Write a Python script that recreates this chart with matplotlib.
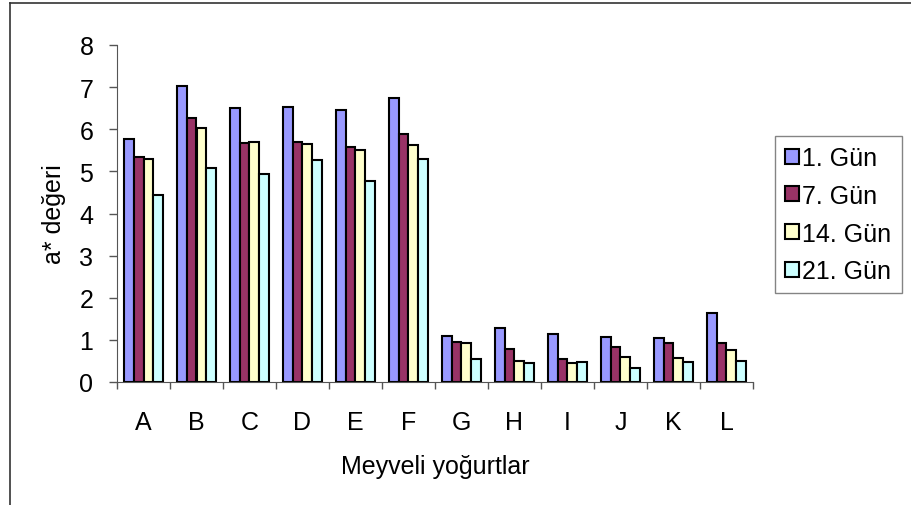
import numpy as np
import matplotlib
matplotlib.use("Agg")
import matplotlib.pyplot as plt
from matplotlib.lines import Line2D

plt.rcParams['font.family'] = ['Liberation Sans', 'DejaVu Sans']

categories = ['A', 'B', 'C', 'D', 'E', 'F', 'G', 'H', 'I', 'J', 'K', 'L']
series_names = ['1. Gün', '7. Gün', '14. Gün', '21. Gün']
gun1 = [5.77, 7.02, 6.51, 6.54, 6.46, 6.74, 1.10, 1.28, 1.15, 1.06, 1.05, 1.64]
gun7 = [5.33, 6.27, 5.67, 5.70, 5.57, 5.89, 0.96, 0.79, 0.54, 0.82, 0.93, 0.93]
gun14 = [5.30, 6.04, 5.70, 5.65, 5.50, 5.62, 0.92, 0.50, 0.46, 0.60, 0.58, 0.76]
gun21 = [4.44, 5.09, 4.93, 5.28, 4.78, 5.30, 0.54, 0.44, 0.47, 0.33, 0.47, 0.51]
colors = ['#9999FF', '#993366', '#FFFFCC', '#CCFFFF']

fs = 18

fig = plt.figure(figsize=(9.12, 5.06), dpi=100)
ax = fig.add_axes([117/912, 1 - 383/506, (753-117)/912, (383-46)/506])

x = np.arange(len(categories))
w = 0.184
for i, vals in enumerate([gun1, gun7, gun14, gun21]):
    ax.bar(x + (i - 1.5) * w, vals, w, color=colors[i], edgecolor='black',
           linewidth=1.5, label=series_names[i])

ax.set_xlim(-0.5, len(categories) - 0.5)
ax.set_ylim(0, 8)
ax.set_yticks(range(0, 9))
ax.tick_params(axis='y', labelsize=fs, length=6, width=1, color='#555555', pad=11)

ax.set_xticks(np.arange(len(categories) + 1) - 0.5)
ax.set_xticklabels([])
ax.set_xticks(x, categories, minor=True)
ax.tick_params(axis='x', which='major', length=5, width=1, color='#555555')
ax.tick_params(axis='x', which='minor', length=0, labelsize=fs, pad=20)

for s in ['top', 'right']:
    ax.spines[s].set_visible(False)
ax.spines['left'].set_color('#555555')
ax.spines['bottom'].set_color('#555555')

ax.set_xlabel('Meyveli yoğurtlar', fontsize=fs, labelpad=14.5)
ax.set_ylabel('a* değeri', fontsize=fs, labelpad=10)

leg = ax.legend(loc='upper left', bbox_to_anchor=(775/912, 1 - 137/506),
                bbox_transform=fig.transFigure, fontsize=fs, frameon=True,
                fancybox=False, edgecolor='#666666', handlelength=0.55,
                handleheight=0.55, handletextpad=0.15, labelspacing=0.55,
                borderaxespad=0, borderpad=0.4)
leg.get_frame().set_linewidth(1)

# outer chart border (left and top)
fig.add_artist(Line2D([10/912, 10/912], [0, 1 - 4/506], color='#333333', lw=1.2))
fig.add_artist(Line2D([10/912, 1], [1 - 4/506, 1 - 4/506], color='#333333', lw=1.2))

fig.savefig('out.png', dpi=100)
